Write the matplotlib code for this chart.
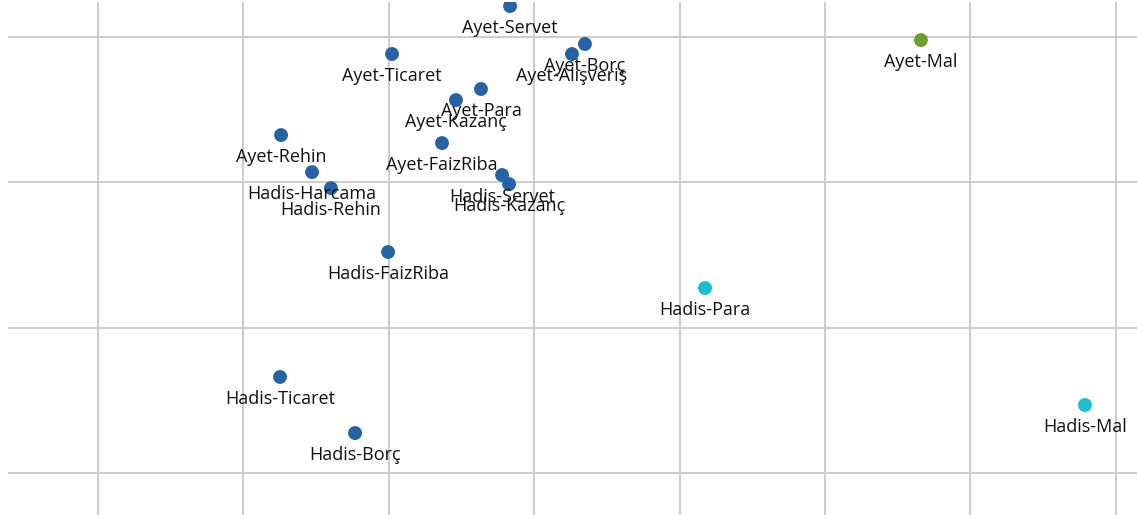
import matplotlib
matplotlib.use("Agg")
import matplotlib.pyplot as plt

# point labels and coordinates (grid units)
labels = [
    "Ayet-Servet", "Ayet-Borç", "Ayet-Alışveriş", "Ayet-Ticaret", "Ayet-Para",
    "Ayet-Kazanç", "Ayet-Rehin", "Ayet-FaizRiba", "Hadis-Harcama", "Hadis-Rehin",
    "Hadis-Servet", "Hadis-Kazanç", "Hadis-FaizRiba", "Hadis-Para", "Hadis-Ticaret",
    "Hadis-Borç", "Hadis-Mal", "Ayet-Mal",
]
x_vals = [2.834, 3.349, 3.260, 2.022, 2.634, 2.462, 1.259, 2.366, 1.472, 1.602,
          2.779, 2.827, 1.995, 4.175, 1.252, 1.768, 6.788, 5.660]
y_vals = [3.214, 2.953, 2.884, 2.884, 2.643, 2.567, 2.326, 2.271, 2.071, 1.961,
          2.051, 1.989, 1.521, 1.273, 0.661, 0.275, 0.468, 2.980]
groups = ["a", "a", "a", "a", "a", "a", "a", "a", "a", "a",
          "a", "a", "a", "c", "a", "a", "c", "g"]

group_colors = {"a": "#2563a6", "c": "#17bfd0", "g": "#6aa22c"}

fig = plt.figure(figsize=(11.37, 5.15), dpi=100)
ax = fig.add_axes([8 / 1137, 0, 1129 / 1137, 513 / 515])

ax.scatter(x_vals, y_vals, s=100, c=[group_colors[g] for g in groups],
           edgecolors="none", zorder=3)

for lab, x, y in zip(labels, x_vals, y_vals):
    ax.annotate(lab, (x, y), xytext=(0, -22), textcoords="offset pixels",
                ha="center", va="center", fontsize=13, color="#111111",
                family=["Open Sans", "DejaVu Sans"], zorder=4)

ax.set_xlim(-0.619, 7.146)
ax.set_ylim(-0.289, 3.242)
ax.set_xticks(range(0, 8))
ax.set_yticks(range(0, 4))
ax.grid(True, color="#cccccc", linewidth=1.4)
ax.set_axisbelow(True)
ax.tick_params(length=0, labelbottom=False, labelleft=False)
for sp in ax.spines.values():
    sp.set_visible(False)

fig.savefig("out.png", dpi=100)
